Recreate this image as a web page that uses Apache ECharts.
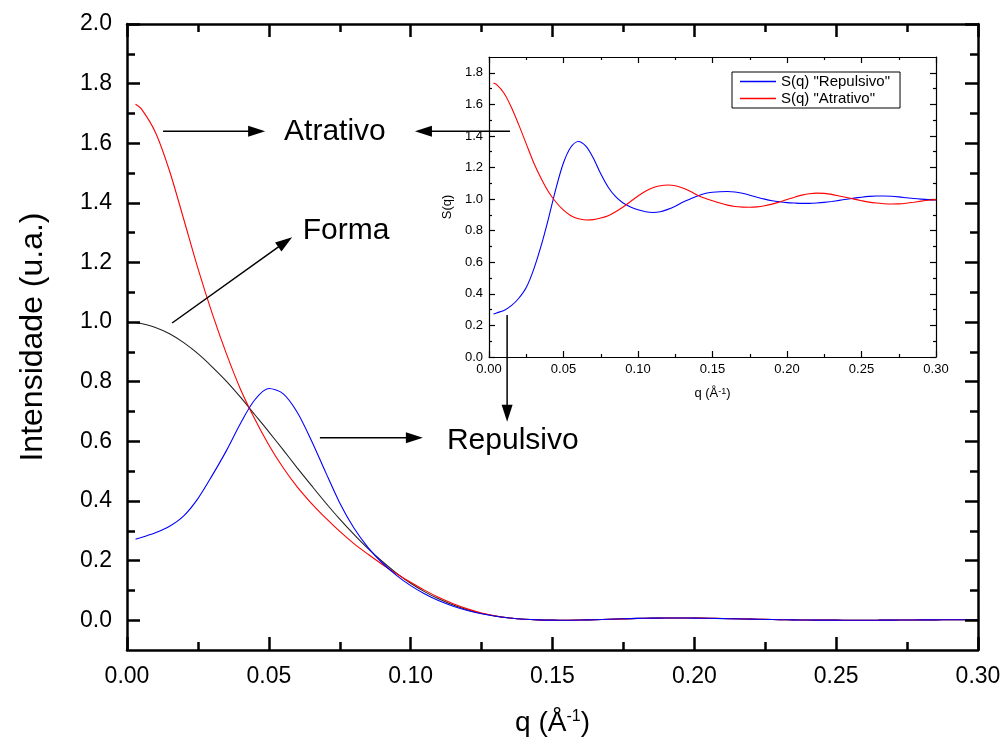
<!DOCTYPE html>
<html><head><meta charset="utf-8">
<script src="https://cdn.jsdelivr.net/npm/echarts@6/dist/echarts.min.js"></script>
<style>html,body{margin:0;padding:0;background:#fff}#c{width:1005px;height:744px}</style>
</head><body><div id="c"></div>
<script>
// ---------- data ----------
const q = [0.003,0.005,0.01,0.015,0.02,0.025,0.03,0.035,0.04,0.045,0.05,0.055,0.06,0.065,0.07,0.075,0.08,0.085,0.09,0.095,0.10,
  0.105,0.11,0.115,0.12,0.125,0.13,0.135,0.14,0.145,0.15,0.155,0.16,0.165,0.17,0.175,0.18,0.185,0.19,0.195,0.20,
  0.205,0.21,0.215,0.22,0.225,0.23,0.235,0.24,0.245,0.25,0.255,0.26,0.265,0.27,0.275,0.28,0.285,0.29,0.295,0.30];

// main plot: intensities
const forma = [0.998,0.9955,0.982,0.961,0.931,0.894,0.850,0.802,0.748,0.690,0.632,0.572,0.511,0.452,0.394,0.339,0.288,0.240,0.197,0.158,0.124,
  0.095,0.071,0.051,0.035,0.0225,0.0135,0.0072,0.0031,0.001,0.0001,
  0.0,0.0006,0.0016,0.003,0.0045,0.006,0.0069,0.0073,0.0074,0.0071,0.0065,0.0056,0.0046,0.0036,0.0026,0.0017,0.001,0.0005,0.0002,0.0001,
  0.0,0.0,0.0001,0.0003,0.0006,0.0009,0.0012,0.0014,0.0016,0.0016];
const atrativo = [1.731,1.716,1.637,1.507,1.345,1.18,1.03,0.895,0.775,0.676,0.588,0.512,0.447,0.392,0.343,0.298,0.257,0.221,0.187,0.156,0.127,
  0.100,0.076,0.055,0.038,0.024,0.014,0.0076,0.0032,0.001,0.0001,
  0.0,0.0006,0.0015,0.0028,0.0043,0.0057,0.0066,0.0071,0.0073,0.0071,0.0066,0.0058,0.0048,0.0037,0.0027,0.0018,0.001,0.0005,0.0002,0.0001,
  0.0,0.0,0.0001,0.0003,0.0006,0.0009,0.0012,0.0014,0.0016,0.0016];
const repulsivo = [0.2715,0.2775,0.293,0.315,0.350,0.408,0.485,0.568,0.660,0.7386,0.777,0.7601,0.6978,0.603,0.4967,0.3934,0.3091,0.2436,0.1919,0.1504,0.1159,
  0.0878,0.0649,0.0468,0.0326,0.0215,0.0132,0.0072,0.0032,0.001,0.0001,
  0.0,0.0006,0.0017,0.0031,0.0046,0.0061,0.0069,0.0072,0.0073,0.0069,0.0063,0.0054,0.0045,0.0035,0.0025,0.0017,0.001,0.0005,0.0002,0.0001,
  0.0,0.0,0.0001,0.0003,0.0006,0.0009,0.0012,0.0014,0.0016,0.0016];

// inset: structure factors
const sRepulsivo = [0.272,0.279,0.295,0.325,0.372,0.44,0.555,0.705,0.88,1.07,1.23,1.33,1.365,1.335,1.26,1.16,1.075,1.015,0.975,0.95,0.932,
  0.92,0.915,0.92,0.935,0.955,0.98,1.0,1.02,1.035,1.043,
  1.047,1.048,1.045,1.037,1.025,1.012,1.0,0.99,0.983,0.978,0.975,0.973,0.973,0.975,0.979,0.985,0.992,0.999,1.006,1.012,
  1.017,1.02,1.02,1.018,1.014,1.009,1.004,1.0,0.997,0.995];
const sAtrativo = [1.735,1.726,1.672,1.582,1.47,1.35,1.23,1.13,1.045,0.98,0.93,0.895,0.875,0.868,0.87,0.88,0.895,0.92,0.95,0.985,1.02,
  1.05,1.072,1.085,1.089,1.085,1.07,1.05,1.025,1.005,0.99,
  0.975,0.962,0.953,0.949,0.948,0.951,0.958,0.968,0.982,0.997,1.012,1.025,1.034,1.038,1.036,1.03,1.02,1.01,1.0,0.99,
  0.981,0.975,0.971,0.969,0.97,0.974,0.98,0.987,0.993,0.997];

// tick values
const mainYMajor = [0,0.2,0.4,0.6,0.8,1.0,1.2,1.4,1.6,1.8,2.0];
const mainYMinor = [0.1,0.3,0.5,0.7,0.9,1.1,1.3,1.5,1.7,1.9];
const insetYMajor = [0,0.2,0.4,0.6,0.8,1.0,1.2,1.4,1.6,1.8];
const insetYMinor = [0.1,0.3,0.5,0.7,0.9,1.1,1.3,1.5,1.7];

const seriesNames = ['Forma','Atrativo','Repulsivo','S(q) "Repulsivo"','S(q) "Atrativo"'];
const annotationTexts = ['Atrativo','Forma','Repulsivo'];

// ---------- chart ----------
const FONT = '"Liberation Sans", Arial, sans-serif';
const pairs = arr => q.map((x,i)=>[x, arr[i]]);

function xAxis(grid, pos, labels, o) {
  return {
    type:'value', gridIndex:grid, position:pos, min:0, max:0.3, interval:0.05, z:5,
    axisLine:{show:true, onZero:false, lineStyle:{color:'#000', width:o.lw}},
    axisTick:{show:true, inside:true, length:o.major, lineStyle:{color:'#000', width:o.lw}},
    minorTick:{show:true, splitNumber:2, length:o.minor, lineStyle:{color:'#000', width:o.lw}},
    splitLine:{show:false}, minorSplitLine:{show:false},
    axisLabel:{show:labels, color:'#000', fontSize:o.fs, fontFamily:FONT, margin:o.margin, formatter:v=>v.toFixed(2)}
  };
}
function yAxis(grid, pos, min, max, ticks, len, labels, o, showLine) {
  return {
    type:'value', gridIndex:grid, position:pos, min:min, max:max, z:5,
    axisLine:{show:showLine, onZero:false, lineStyle:{color:'#000', width:o.lw}},
    axisTick:{show:true, inside:true, length:len, customValues:ticks, lineStyle:{color:'#000', width:o.lw}},
    splitLine:{show:false},
    axisLabel:{show:labels, customValues:labels?ticks:undefined, color:'#000', fontSize:o.fs, fontFamily:FONT, margin:o.margin, formatter:v=>v.toFixed(1)}
  };
}
const M = {lw:2.5, major:13, minor:8, fs:23, margin:15};
const I = {lw:1.2, major:6, minor:3, fs:13, margin:6};

const xAxes = [
  Object.assign(xAxis(0,'bottom',true,M), {name:'q (Å{sup|-1})', nameLocation:'middle', nameGap:59,
    nameTextStyle:{fontSize:28, fontFamily:FONT, color:'#000', rich:{sup:{fontSize:16, fontFamily:FONT, color:'#000', verticalAlign:'top', padding:[0,0,10,0]}}}}),
  xAxis(0,'top',false,M),
  Object.assign(xAxis(1,'bottom',true,I), {name:'q (Å{sup|-1})', nameLocation:'middle', nameGap:30,
    nameTextStyle:{fontSize:13, fontFamily:FONT, color:'#000', rich:{sup:{fontSize:9, fontFamily:FONT, color:'#000', verticalAlign:'top', padding:[0,0,4,0]}}}}),
  xAxis(1,'top',false,I)
];
const yAxes = [
  Object.assign(yAxis(0,'left',-0.1,2.0,mainYMajor,M.major,true,M,true), {name:'Intensidade (u.a.)', nameLocation:'middle', nameGap:78, nameRotate:90,
    nameTextStyle:{fontSize:32, fontFamily:FONT, color:'#000'}}),
  yAxis(0,'right',-0.1,2.0,mainYMajor,M.major,false,M,true),
  yAxis(0,'left',-0.1,2.0,mainYMinor,M.minor,false,M,false),
  yAxis(0,'right',-0.1,2.0,mainYMinor,M.minor,false,M,false),
  Object.assign(yAxis(1,'left',0,1.9,insetYMajor,I.major,true,I,true), {name:'S(q)', nameLocation:'middle', nameGap:35, nameRotate:90,
    nameTextStyle:{fontSize:13, fontFamily:FONT, color:'#000'}}),
  yAxis(1,'right',0,1.9,insetYMajor,I.major,false,I,true),
  yAxis(1,'left',0,1.9,insetYMinor,I.minor,false,I,false),
  yAxis(1,'right',0,1.9,insetYMinor,I.minor,false,I,false)
];

const line = (name, data, color, xi, yi, z) => ({
  name, type:'line', data:pairs(data), xAxisIndex:xi, yAxisIndex:yi, symbol:'none', smooth:0.3,
  lineStyle:{color, width:1.1}, itemStyle:{color}, z, silent:true, animation:false, clip:true
});

const option = {
  animation:false,
  backgroundColor:'#fff',
  grid:[
    {left:127, top:24, width:851, height:626, show:false},
    {left:489, top:57, width:447, height:300, show:false}
  ],
  xAxis:xAxes,
  yAxis:yAxes,
  legend:{
    data:[seriesNames[3], seriesNames[4]], orient:'vertical', left:732, top:72,
    borderColor:'#000', borderWidth:1, backgroundColor:'#fff', padding:[2,10,2,8], itemGap:2,
    icon:'rect', itemWidth:36, itemHeight:1.5, textStyle:{fontSize:15, fontFamily:FONT, color:'#000'}
  },
  series:[
    line(seriesNames[0], forma, '#222222', 0, 0, 2),
    line(seriesNames[1], atrativo, '#ff0000', 0, 0, 3),
    line(seriesNames[2], repulsivo, '#0000ff', 0, 0, 4),
    line(seriesNames[3], sRepulsivo, '#0000ff', 2, 4, 5),
    line(seriesNames[4], sAtrativo, '#ff0000', 2, 4, 6)
  ]
};
const chart = echarts.init(document.getElementById('c'));
chart.setOption(option);

// annotations (data coordinates of the main plot)
const arrows = [
  [[0.0127,1.640],[0.0487,1.640]],
  [[0.135,1.640],[0.1015,1.640]],
  [[0.0159,0.997],[0.0582,1.285]],
  [[0.068,0.612],[0.1043,0.612]],
  [[0.134,1.024],[0.134,0.666]]
];
const textPos = [[0.0733,1.64],[0.0772,1.305],[0.136,0.602]];
const px = p => chart.convertToPixel({gridIndex:0}, p);
const els = [];
arrows.forEach(([a,b])=>{
  const A=px(a), B=px(b);
  const dx=B[0]-A[0], dy=B[1]-A[1], L=Math.hypot(dx,dy), ux=dx/L, uy=dy/L;
  const hl=17, hw=5.5;
  const base=[B[0]-ux*hl, B[1]-uy*hl];
  els.push({type:'line', z:100, shape:{x1:A[0],y1:A[1],x2:base[0]+ux*2,y2:base[1]+uy*2}, style:{stroke:'#000', lineWidth:1.5}});
  els.push({type:'polygon', z:100, shape:{points:[B,[base[0]-uy*hw, base[1]+ux*hw],[base[0]+uy*hw, base[1]-ux*hw]]}, style:{fill:'#000'}});
});
annotationTexts.forEach((t,i)=>{
  const p = px(textPos[i]);
  els.push({type:'text', z:100, x:p[0], y:p[1], style:{text:t, fontSize:30, fontFamily:FONT, fill:'#000', align:'center', verticalAlign:'middle'}});
});
chart.setOption({graphic:{elements:els}});
</script></body></html>
